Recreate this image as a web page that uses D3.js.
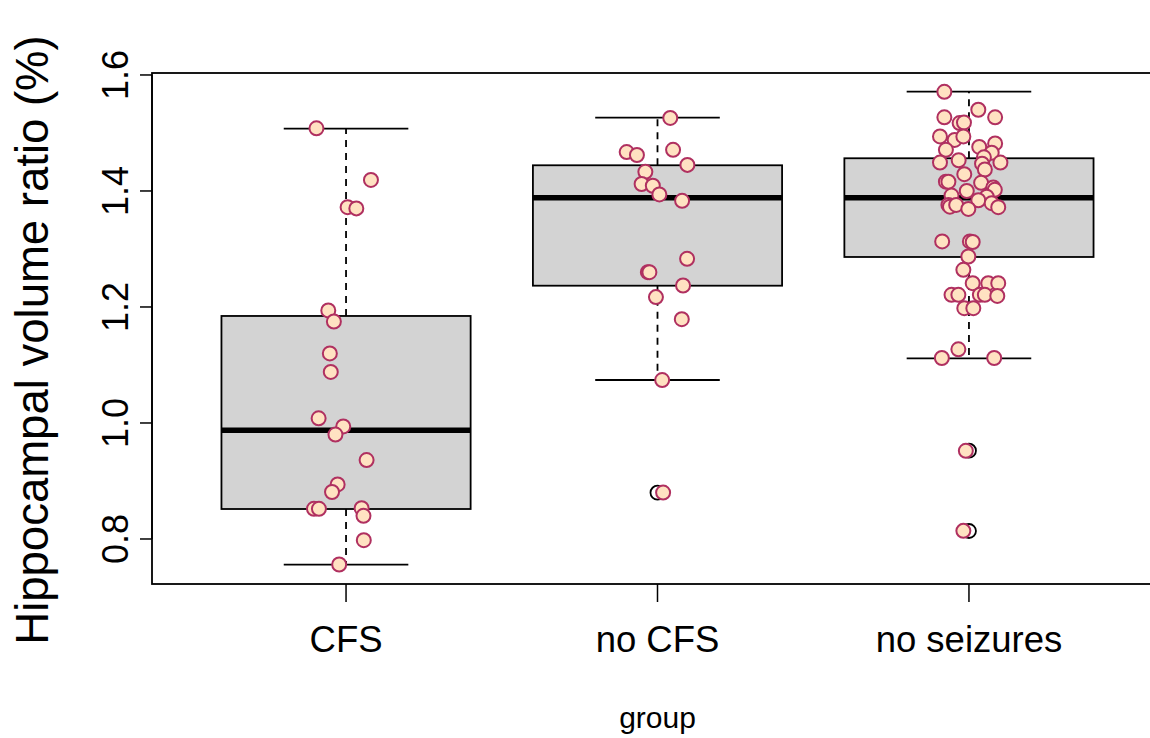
<!DOCTYPE html>
<html>
<head>
<meta charset="utf-8">
<script src="https://cdn.jsdelivr.net/npm/d3@7"></script>
<style>
  html, body { margin: 0; padding: 0; background: #ffffff; }
  svg { display: block; font-family: "Liberation Sans", Arial, Helvetica, sans-serif; }
</style>
</head>
<body>
<svg id="chart" width="1150" height="738"></svg>
<script>
// Groups and axis ticks
const groups = ["CFS", "no CFS", "no seizures"];
const yTicks = [0.8, 1.0, 1.2, 1.4, 1.6];

// Box statistics per group (whisker ends, hinges, median)
const whiskerLow  = [0.7557, 1.0741, 1.1115];
const hingeLow    = [0.8517, 1.2367, 1.2862];
const medians     = [0.9874, 1.3885, 1.3885];
const hingeHigh   = [1.1845, 1.4443, 1.4564];
const whiskerHigh = [1.5074, 1.5264, 1.5712];
const outliers    = [[], [0.8798], [0.9522, 0.8138]];

// Individual observations with their horizontal jitter (in group units)
const cfsValues = [1.508, 1.419, 1.372, 1.370, 1.194, 1.175, 1.120, 1.088, 1.008, 0.994,
                   0.980, 0.936, 0.894, 0.881, 0.852, 0.852, 0.853, 0.840, 0.798, 0.756];
const cfsJitter = [-0.095, 0.080, 0.005, 0.033, -0.057, -0.039, -0.052, -0.049, -0.088, -0.009,
                   -0.034, 0.066, -0.027, -0.045, -0.103, -0.087, 0.050, 0.056, 0.057, -0.022];

const noCfsValues = [1.526, 1.467, 1.462, 1.471, 1.445, 1.433, 1.412, 1.409, 1.394, 1.383,
                     1.283, 1.260, 1.260, 1.237, 1.217, 1.179, 1.074, 0.880];
const noCfsJitter = [0.041, -0.099, -0.066, 0.050, 0.096, -0.039, -0.051, -0.015, 0.006, 0.079,
                     0.095, -0.031, -0.026, 0.082, -0.005, 0.078, 0.015, 0.018];

const noSeizValues = [1.571, 1.540, 1.527, 1.527, 1.517, 1.518, 1.494, 1.488, 1.494, 1.471,
                      1.476, 1.482, 1.466, 1.449, 1.453, 1.449, 1.458, 1.447, 1.437, 1.429,
                      1.416, 1.416, 1.414, 1.406, 1.402, 1.400, 1.392, 1.390, 1.384, 1.379,
                      1.376, 1.373, 1.376, 1.369, 1.372, 1.313, 1.313, 1.312, 1.287, 1.264,
                      1.241, 1.241, 1.241, 1.221, 1.221, 1.221, 1.221, 1.219, 1.198, 1.198,
                      1.127, 1.112, 1.112, 0.952, 0.814];
const noSeizJitter = [-0.079, 0.030, 0.084, -0.079, -0.030, -0.016, -0.093, -0.046, -0.018, -0.074,
                      0.033, 0.084, 0.073, -0.093, -0.033, 0.101, 0.048, 0.042, 0.051, -0.015,
                      -0.074, -0.066, 0.039, 0.078, 0.083, -0.007, -0.056, 0.057, 0.030, 0.073,
                      -0.066, -0.061, -0.041, -0.002, 0.094, -0.086, 0.003, 0.012, -0.002, -0.018,
                      0.012, 0.062, 0.094, -0.056, -0.034, 0.035, 0.051, 0.091, -0.015, 0.014,
                      -0.034, -0.087, 0.081, -0.010, -0.018];

const groupValues = [cfsValues, noCfsValues, noSeizValues];
const groupJitter = [cfsJitter, noCfsJitter, noSeizJitter];

const svg = d3.select("#chart");

// Plot region and scales
const x = d3.scaleLinear().domain([0.377, 3.623]).range([152, 1163]);
const y = d3.scaleLinear().domain([0.7224, 1.6034]).range([584, 73]);

const boxHalf = 0.4, capHalf = 0.2;

const stats = groups.map((g, i) => ({
  i, pos: i + 1,
  lo: whiskerLow[i], q1: hingeLow[i], med: medians[i], q3: hingeHigh[i], hi: whiskerHigh[i],
  out: outliers[i]
}));

const boxes = svg.append("g").attr("class", "boxes");

// dashed whiskers
boxes.selectAll("line.whisk-up").data(stats).join("line")
  .attr("x1", d => x(d.pos)).attr("x2", d => x(d.pos))
  .attr("y1", d => y(d.q3)).attr("y2", d => y(d.hi))
  .attr("stroke", "#000").attr("stroke-width", 1.8).attr("stroke-dasharray", "7,6");
boxes.selectAll("line.whisk-dn").data(stats).join("line")
  .attr("x1", d => x(d.pos)).attr("x2", d => x(d.pos))
  .attr("y1", d => y(d.q1)).attr("y2", d => y(d.lo))
  .attr("stroke", "#000").attr("stroke-width", 1.8).attr("stroke-dasharray", "7,6");

// whisker caps
["lo", "hi"].forEach(k => {
  boxes.append("g").selectAll("line").data(stats).join("line")
    .attr("x1", d => x(d.pos - capHalf)).attr("x2", d => x(d.pos + capHalf))
    .attr("y1", d => y(d[k])).attr("y2", d => y(d[k]))
    .attr("stroke", "#000").attr("stroke-width", 1.8);
});

// boxes
boxes.append("g").selectAll("rect").data(stats).join("rect")
  .attr("x", d => x(d.pos - boxHalf))
  .attr("width", d => x(d.pos + boxHalf) - x(d.pos - boxHalf))
  .attr("y", d => y(d.q3))
  .attr("height", d => y(d.q1) - y(d.q3))
  .attr("fill", "#d3d3d3").attr("stroke", "#000").attr("stroke-width", 1.8);

// medians
boxes.append("g").selectAll("line").data(stats).join("line")
  .attr("x1", d => x(d.pos - boxHalf)).attr("x2", d => x(d.pos + boxHalf))
  .attr("y1", d => y(d.med)).attr("y2", d => y(d.med))
  .attr("stroke", "#000").attr("stroke-width", 5.5);

// outlier markers
const outPts = stats.flatMap(d => d.out.map(v => ({ pos: d.pos, v })));
boxes.append("g").selectAll("circle").data(outPts).join("circle")
  .attr("cx", d => x(d.pos)).attr("cy", d => y(d.v)).attr("r", 7)
  .attr("fill", "none").attr("stroke", "#000").attr("stroke-width", 1.8);

// jittered observations
const pts = groupValues.flatMap((vals, i) =>
  vals.map((v, j) => ({ xv: i + 1 + groupJitter[i][j], v })));
svg.append("g").attr("class", "points").selectAll("circle").data(pts).join("circle")
  .attr("cx", d => x(d.xv)).attr("cy", d => y(d.v)).attr("r", 7)
  .attr("fill", "#ffe2c2").attr("stroke", "#b03060").attr("stroke-width", 2);

// plot frame
svg.append("rect")
  .attr("x", x.range()[0]).attr("y", y.range()[1])
  .attr("width", x.range()[1] - x.range()[0])
  .attr("height", y.range()[0] - y.range()[1])
  .attr("fill", "none").attr("stroke", "#000").attr("stroke-width", 1.8);

// y axis
const yAxis = svg.append("g").attr("transform", `translate(${x.range()[0]},0)`);
yAxis.selectAll("line").data(yTicks).join("line")
  .attr("x1", 0).attr("x2", -12)
  .attr("y1", d => y(d)).attr("y2", d => y(d))
  .attr("stroke", "#000").attr("stroke-width", 1.5);
yAxis.append("line").attr("x1", 0).attr("x2", 0)
  .attr("y1", y(yTicks[0])).attr("y2", y(yTicks[yTicks.length - 1]))
  .attr("stroke", "#000").attr("stroke-width", 1.5);
yAxis.selectAll("text").data(yTicks).join("text")
  .attr("transform", d => `translate(-24,${y(d)}) rotate(-90)`)
  .attr("text-anchor", "middle")
  .attr("font-size", 36)
  .text(d => d.toFixed(1));

// x axis
const xAxis = svg.append("g").attr("transform", `translate(0,${y.range()[0]})`);
xAxis.selectAll("line").data(stats).join("line")
  .attr("x1", d => x(d.pos)).attr("x2", d => x(d.pos))
  .attr("y1", 0).attr("y2", 18)
  .attr("stroke", "#000").attr("stroke-width", 1.5);
xAxis.selectAll("text").data(stats).join("text")
  .attr("x", d => x(d.pos)).attr("y", 68)
  .attr("text-anchor", "middle")
  .attr("font-size", 36.5)
  .text(d => groups[d.i]);

// axis titles
svg.append("text")
  .attr("x", x(2)).attr("y", 728)
  .attr("text-anchor", "middle").attr("font-size", 30)
  .text("group");
svg.append("text")
  .attr("transform", `translate(48,340) rotate(-90)`)
  .attr("text-anchor", "middle").attr("font-size", 45.5)
  .text("Hippocampal volume ratio (%)");
</script>
</body>
</html>
